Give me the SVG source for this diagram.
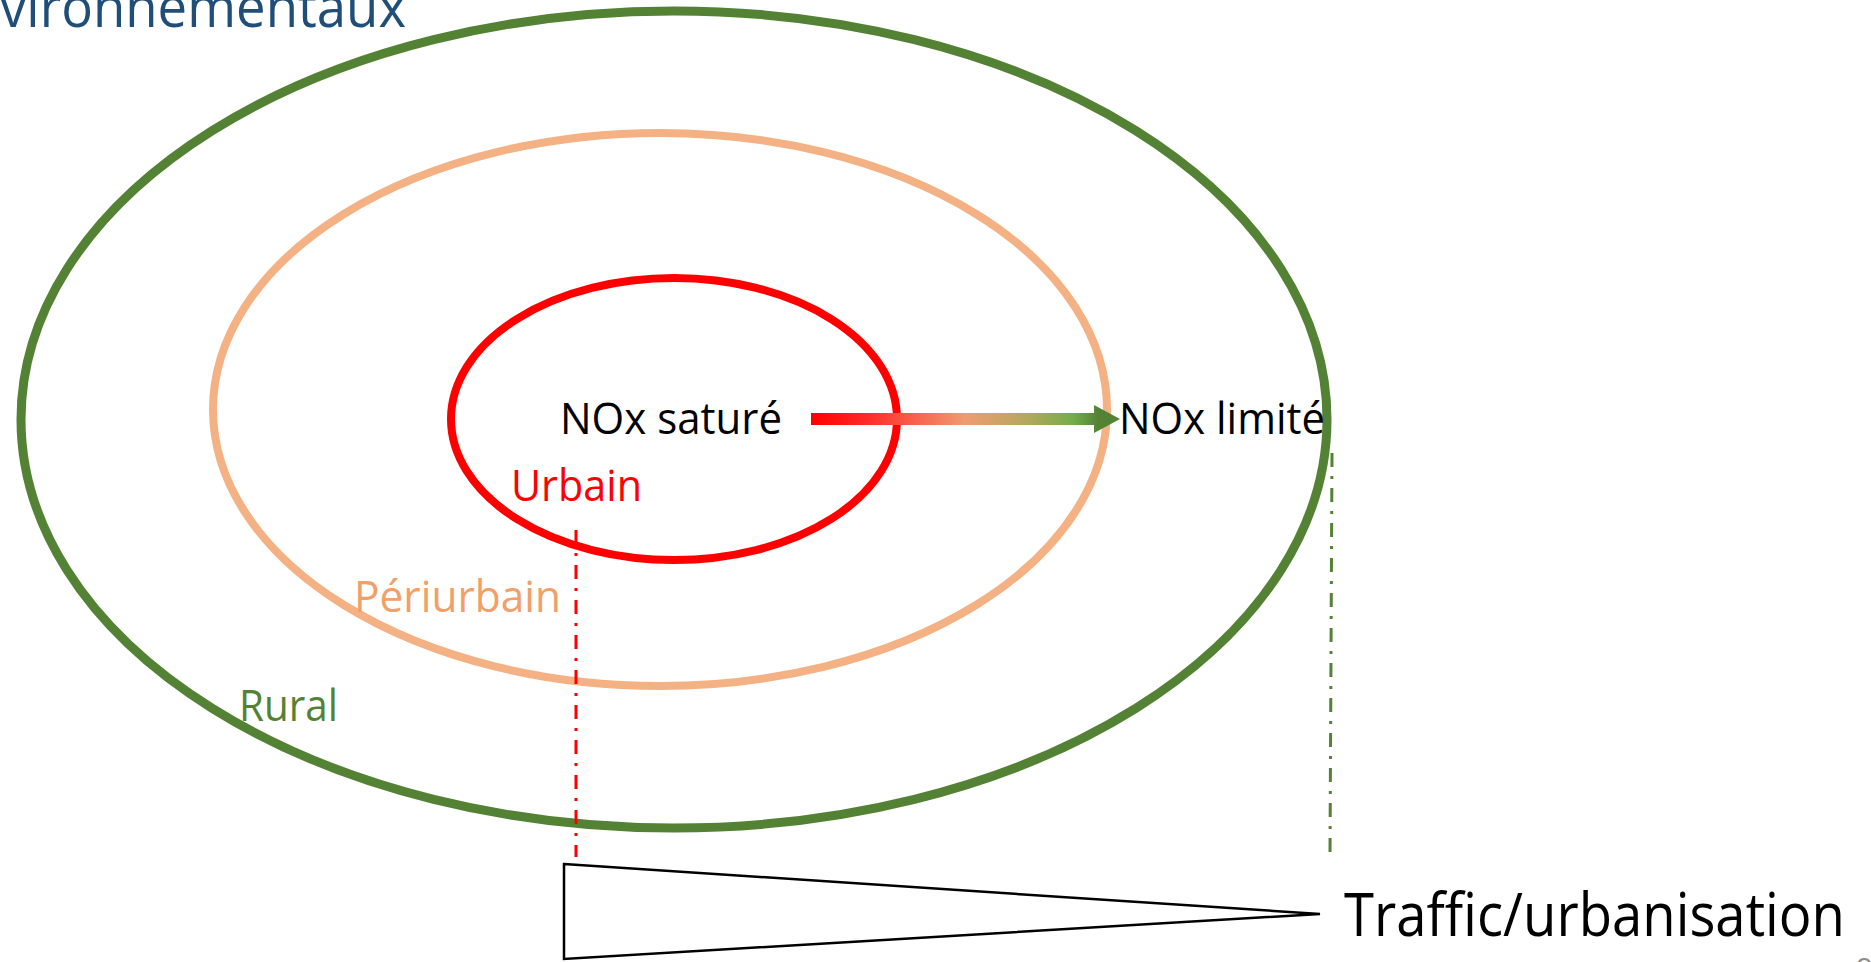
<svg xmlns="http://www.w3.org/2000/svg" width="1871" height="962" viewBox="0 0 1871 962">
  <style>
    .lbl { font-family: "Open Sans", "Noto Sans", "Liberation Sans", sans-serif; font-size: 44px; }
    .ring { fill: none; }
    .guide { fill: none; stroke-width: 3; stroke-dasharray: 14 9 3 9; }
  </style>
  <defs>
    <linearGradient id="arrowGrad" gradientUnits="userSpaceOnUse" x1="811" y1="0" x2="1120" y2="0">
      <stop offset="0" stop-color="#FF0000"/>
      <stop offset="0.18" stop-color="#FF2A2A"/>
      <stop offset="0.5" stop-color="#EF9C72"/>
      <stop offset="0.7" stop-color="#B3A85E"/>
      <stop offset="0.85" stop-color="#72AD4A"/>
      <stop offset="0.93" stop-color="#548235"/>
      <stop offset="1" stop-color="#548235"/>
    </linearGradient>
  </defs>
  <rect width="1871" height="962" fill="#FFFFFF"/>

  <g id="title">
    <text x="0" y="27" font-family="'Open Sans', 'Noto Sans', sans-serif" font-size="56" fill="#1F4E79" textLength="406" lengthAdjust="spacingAndGlyphs">vironnementaux</text>
  </g>

  <g id="zone-rural">
    <ellipse class="ring" cx="674" cy="419.5" rx="653" ry="408.5" stroke="#548235" stroke-width="9"/>
    <text class="lbl" x="239" y="721" fill="#548235" textLength="99" lengthAdjust="spacingAndGlyphs">Rural</text>
  </g>

  <g id="zone-periurbain">
    <ellipse class="ring" cx="660" cy="409.5" rx="447" ry="276.5" stroke="#F4B183" stroke-width="8"/>
    <text class="lbl" x="354" y="612" fill="#F0A068" textLength="207" lengthAdjust="spacingAndGlyphs">Périurbain</text>
  </g>

  <g id="zone-urbain">
    <ellipse class="ring" cx="674" cy="419" rx="223" ry="141" stroke="#FF0000" stroke-width="8"/>
    <text class="lbl" x="511" y="501" fill="#FF0000" textLength="131" lengthAdjust="spacingAndGlyphs">Urbain</text>
  </g>

  <g id="node-nox-sature">
    <text class="lbl" x="560" y="434" fill="#000000" textLength="222" lengthAdjust="spacingAndGlyphs">NOx saturé</text>
  </g>

  <g id="node-nox-limite">
    <text class="lbl" x="1119" y="434" fill="#000000" textLength="206" lengthAdjust="spacingAndGlyphs">NOx limité</text>
  </g>

  <g id="connectors">
    <path d="M811,413 L1094,413 L1094,405 L1120,419 L1094,433 L1094,425 L811,425 Z" fill="url(#arrowGrad)"/>
    <line class="guide" x1="576" y1="530" x2="576" y2="857" stroke="#FF0000"/>
    <line class="guide" x1="1332" y1="453" x2="1330" y2="855" stroke="#548235"/>
  </g>

  <g id="gradient-traffic">
    <polygon points="564,864 1320,914 564,959" fill="#FFFFFF" stroke="#000000" stroke-width="2.5" stroke-linejoin="miter"/>
    <text x="1344" y="936" font-family="'Open Sans', 'Noto Sans', sans-serif" font-size="61" fill="#000000" textLength="501" lengthAdjust="spacingAndGlyphs">Traffic/urbanisation</text>
  </g>

  <g id="page-number">
    <text x="1856" y="979" font-family="'Open Sans', sans-serif" font-size="30" fill="#8C8C8C">9</text>
  </g>
</svg>
